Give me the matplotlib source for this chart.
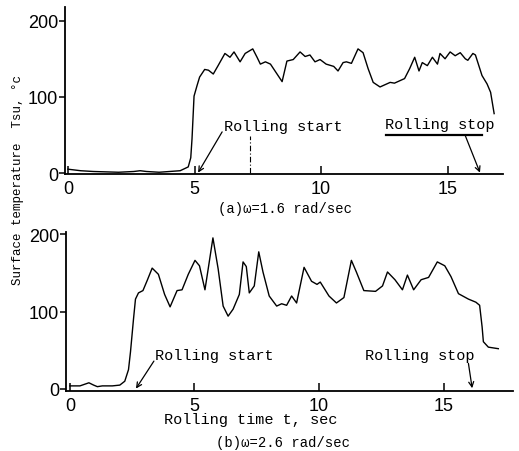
import matplotlib
matplotlib.use("Agg")
import matplotlib.pyplot as plt

# Section 0: data (time in s, temperature in deg C)

t_a = [0, 0.5, 1.0, 2.0, 2.6, 2.85, 3.1, 3.6, 4.43, 4.75,
       4.85, 4.9, 4.98, 5.1, 5.2, 5.4, 5.55, 5.74, 5.93, 6.2,
       6.4, 6.56, 6.8, 7.0, 7.3, 7.47, 7.6, 7.8, 8.0, 8.26,
       8.46, 8.65, 8.9, 9.17, 9.37, 9.56, 9.76, 9.96, 10.2, 10.5,
       10.67, 10.87, 11.0, 11.2, 11.46, 11.66, 11.86, 12.06, 12.33, 12.73,
       12.9, 13.3, 13.5, 13.7, 13.87, 14.0, 14.2, 14.4, 14.6, 14.7,
       14.9, 15.1, 15.3, 15.5, 15.7, 15.8, 16.0, 16.1, 16.36, 16.56,
       16.7, 16.84]
temp_a = [5, 3, 2, 1, 2, 3, 2, 1, 3, 8,
          20, 45, 101, 115, 126, 136, 135, 130, 141, 157,
          152, 159, 146, 157, 163, 152, 143, 146, 143, 130,
          120, 147, 149, 159, 153, 155, 146, 149, 143, 140,
          134, 145, 146, 144, 163, 158, 137, 119, 113, 119,
          118, 124, 137, 152, 134, 145, 141, 152, 143, 157,
          150, 159, 154, 158, 150, 148, 157, 155, 128, 117,
          106, 78]

t_b = [0, 0.4, 0.76, 0.95, 1.1, 1.3, 1.7, 2.0, 2.2, 2.35,
       2.43, 2.55, 2.63, 2.75, 2.93, 3.1, 3.3, 3.55, 3.8, 4.02,
       4.3, 4.5, 4.75, 5.02, 5.2, 5.42, 5.55, 5.74, 5.95, 6.15,
       6.35, 6.55, 6.8, 6.95, 7.08, 7.2, 7.4, 7.58, 7.75, 8.0,
       8.3, 8.5, 8.7, 8.9, 9.1, 9.4, 9.7, 9.92, 10.05, 10.4,
       10.7, 11.0, 11.3, 11.5, 11.8, 12.27, 12.55, 12.75, 13.05, 13.35,
       13.55, 13.8, 14.1, 14.4, 14.75, 15.05, 15.3, 15.6, 16.0, 16.3,
       16.45, 16.55, 16.6, 16.8, 17.2]
temp_b = [4, 4, 8, 5, 3, 4, 4, 5, 10, 25,
          48, 90, 116, 124, 127, 140, 156, 148, 122, 106,
          127, 128, 148, 166, 159, 128, 155, 195, 155, 107,
          94, 103, 122, 164, 158, 124, 133, 177, 151, 120,
          107, 110, 108, 120, 111, 157, 139, 135, 138, 120,
          111, 118, 166, 151, 127, 126, 133, 151, 141, 128,
          147, 128, 141, 144, 164, 159, 145, 123, 116, 112,
          108, 80, 61, 54, 52]

x_ticks = [0, 5, 10, 15]
y_ticks = [0, 100, 200]

# rolling start / stop times marked by arrows
start_a, stop_a = 5.14, 16.28
start_b, stop_b = 2.65, 16.15

# Section 1: figure setup

W, H = 519, 452
MONO = ["Liberation Mono", "DejaVu Sans Mono"]
NUM = ["Liberation Sans Narrow", "Liberation Sans", "DejaVu Sans"]

fig = plt.figure(figsize=(W / 100, H / 100), dpi=100)
fig.patch.set_facecolor("white")


def px_rect(left, top, right, bottom):
    """Convert a pixel box into figure fractions."""
    return [left / W, 1 - bottom / H, (right - left) / W, (bottom - top) / H]


def style_axes(ax):
    for side in ["top", "right"]:
        ax.spines[side].set_visible(False)
    for side in ["left", "bottom"]:
        ax.spines[side].set_linewidth(1.3)
    ax.set_xticks(x_ticks)
    ax.set_yticks(y_ticks)
    ax.tick_params(axis="x", direction="in", length=6, width=1.1, pad=4)
    ax.tick_params(axis="y", direction="out", length=4, width=1.1, pad=1)
    for lab in ax.get_xticklabels() + ax.get_yticklabels():
        lab.set_family(NUM)
        lab.set_fontsize(13)


arrow = dict(arrowstyle="->", lw=0.9, color="black", mutation_scale=9,
             shrinkA=0, shrinkB=0)

# Section 2: panel (a)

ax1 = fig.add_axes(px_rect(65, 8, 503, 175))
ax1.plot(t_a, temp_a, color="black", lw=1.0)
ax1.set_xlim(-0.12, 17.19)
ax1.set_ylim(-1.3, 218)
style_axes(ax1)

ax1.plot([7.2, 7.2], [0, 49], color="black", lw=0.8, ls=(0, (5, 2, 1, 2)))
ax1.text(6.15, 62, "Rolling start", family=MONO, fontsize=11, va="center")
ax1.annotate("", xy=(start_a, 0.5), xytext=(6.09, 54), arrowprops=arrow)
ax1.text(12.53, 64, "Rolling stop", family=MONO, fontsize=11, va="center")
ax1.plot([12.57, 16.36], [50, 50], color="black", lw=1.6)
ax1.annotate("", xy=(stop_a, 0.5), xytext=(15.7, 49), arrowprops=arrow)

fig.text(285 / W, 1 - 209 / H, "(a)\u03c9=1.6 rad/sec", family=MONO,
         fontsize=10, ha="center", va="center")

# Section 3: panel (b)

ax2 = fig.add_axes(px_rect(66, 233, 513, 392))
ax2.plot(t_b, temp_b, color="black", lw=1.0)
ax2.set_xlim(-0.16, 17.79)
ax2.set_ylim(-2.6, 202.6)
style_axes(ax2)

ax2.text(3.41, 44, "Rolling start", family=MONO, fontsize=11, va="center")
ax2.annotate("", xy=(start_b, 0.5), xytext=(3.37, 36), arrowprops=arrow)
ax2.text(11.85, 44, "Rolling stop", family=MONO, fontsize=11, va="center")
ax2.annotate("", xy=(stop_b, 1), xytext=(16.0, 33), arrowprops=arrow)

fig.text(251 / W, 1 - 420 / H, "Rolling time t, sec", family=MONO,
         fontsize=11, ha="center", va="center")
fig.text(283 / W, 1 - 443 / H, "(b)\u03c9=2.6 rad/sec", family=MONO,
         fontsize=10, ha="center", va="center")

# shared y label
fig.text(18 / W, 1 - 180 / H, "Surface temperature  Tsu, \u00b0c", family=MONO,
         fontsize=9, rotation=90, ha="center", va="center")

fig.savefig("out.png", dpi=100, facecolor="white")
